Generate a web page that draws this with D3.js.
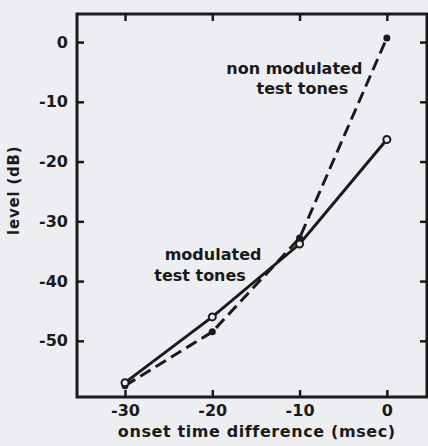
<!DOCTYPE html>
<html>
<head>
<meta charset="utf-8">
<script src="https://cdn.jsdelivr.net/npm/d3@7"></script>
<style>
  body { margin: 0; background: #eceef2; }
  text { font-family: "DejaVu Sans", sans-serif; font-weight: bold; fill: #1a1a1a; }
</style>
</head>
<body>
<div id="wrapper"></div>
<script>
// data
const onsetTimes = [-30, -20, -10, 0]
const modulated = [-57, -46, -33.8, -16.3]
const nonModulated = [-57.5, -48.5, -32.8, 0.7]
const xTicks = [-30, -20, -10, 0]
const yTicks = [0, -10, -20, -30, -40, -50]

const modData = onsetTimes.map((t, i) => ({ t: t, level: modulated[i] }))
const nonModData = onsetTimes.map((t, i) => ({ t: t, level: nonModulated[i] }))

const xAccessor = d => d.t
const yAccessor = d => d.level

let dimensions = {
  width: 428,
  height: 446,
  margin: { top: 14, right: 1, bottom: 49, left: 77 },
}
dimensions.boundedWidth = dimensions.width - dimensions.margin.left - dimensions.margin.right
dimensions.boundedHeight = dimensions.height - dimensions.margin.top - dimensions.margin.bottom

const svg = d3.select("#wrapper")
  .append("svg")
    .attr("width", dimensions.width)
    .attr("height", dimensions.height)

const bounds = svg.append("g")
    .attr("transform", `translate(${dimensions.margin.left},${dimensions.margin.top})`)

const xScale = d3.scaleLinear()
  .domain([-35.5, 4.6])
  .range([0, dimensions.boundedWidth])

const yScale = d3.scaleLinear()
  .domain([-59.4, 4.7])
  .range([dimensions.boundedHeight, 0])

// frame with inward ticks on all four sides
const tickSize = 7
const axisStyle = g => {
  g.select(".domain").remove()
  g.selectAll(".tick line").attr("stroke", "#1a1a1a").attr("stroke-width", 2.5)
  g.selectAll(".tick text")
    .style("font-size", "16px")
    .attr("fill", "#1a1a1a")
}
const plainFormat = d => String(d)

const xAxis = bounds.append("g")
    .attr("transform", `translate(0,${dimensions.boundedHeight})`)
    .call(d3.axisBottom(xScale).tickValues(xTicks).tickSizeInner(-tickSize).tickSizeOuter(0).tickPadding(8).tickFormat(plainFormat))
    .call(axisStyle)

bounds.append("g")
    .call(d3.axisTop(xScale).tickValues(xTicks).tickSizeInner(-tickSize).tickSizeOuter(0).tickFormat(""))
    .call(axisStyle)

const yAxis = bounds.append("g")
    .call(d3.axisLeft(yScale).tickValues(yTicks).tickSizeInner(-tickSize).tickSizeOuter(0).tickPadding(9).tickFormat(plainFormat))
    .call(axisStyle)

bounds.append("g")
    .attr("transform", `translate(${dimensions.boundedWidth},0)`)
    .call(d3.axisRight(yScale).tickValues(yTicks).tickSizeInner(-tickSize).tickSizeOuter(0).tickFormat(""))
    .call(axisStyle)

bounds.append("rect")
    .attr("width", dimensions.boundedWidth)
    .attr("height", dimensions.boundedHeight)
    .attr("fill", "none")
    .attr("stroke", "#1a1a1a")
    .attr("stroke-width", 3)

// lines
const lineGenerator = d3.line()
  .x(d => xScale(xAccessor(d)))
  .y(d => yScale(yAccessor(d)))

bounds.append("path")
    .datum(modData)
    .attr("d", lineGenerator)
    .attr("fill", "none")
    .attr("stroke", "#1a1a1a")
    .attr("stroke-width", 3)

bounds.append("path")
    .datum(nonModData)
    .attr("d", lineGenerator)
    .attr("fill", "none")
    .attr("stroke", "#1a1a1a")
    .attr("stroke-width", 3)
    .attr("stroke-dasharray", "12,6")

bounds.selectAll(".dot-non")
  .data(nonModData)
  .enter().append("circle")
    .attr("class", "dot-non")
    .attr("cx", d => xScale(xAccessor(d)))
    .attr("cy", d => yScale(yAccessor(d)))
    .attr("r", 3.5)
    .attr("fill", "#1a1a1a")

bounds.selectAll(".dot-mod")
  .data(modData)
  .enter().append("circle")
    .attr("class", "dot-mod")
    .attr("cx", d => xScale(xAccessor(d)))
    .attr("cy", d => yScale(yAccessor(d)))
    .attr("r", 3.5)
    .attr("fill", "#eceef2")
    .attr("stroke", "#1a1a1a")
    .attr("stroke-width", 2)

// annotations, one text per line
const annotate = (lines, t, level, lineGap) => {
  lines.forEach((l, i) => {
    bounds.append("text")
        .attr("x", xScale(t) + l.dx)
        .attr("y", yScale(level) + i * lineGap)
        .attr("text-anchor", "middle")
        .style("font-size", "16px")
        .text(l.text)
  })
}
annotate([{ text: "non modulated", dx: 0 }, { text: "test tones", dx: 8 }], -10.6, -5.4, 19.5)
annotate([{ text: "modulated", dx: 13 }, { text: "test tones", dx: 0 }], -21.4, -36.4, 21)

// axis titles
xAxis.append("text")
    .attr("x", xScale(-14.9))
    .attr("y", 40)
    .attr("text-anchor", "middle")
    .style("font-size", "16px")
    .style("letter-spacing", "0.6px")
    .text("onset time difference (msec)")

yAxis.append("text")
    .attr("transform", `translate(${-dimensions.margin.left + 19},${yScale(-24.8)}) rotate(-90)`)
    .attr("text-anchor", "middle")
    .style("font-size", "15px")
    .style("letter-spacing", "0.8px")
    .text("level (dB)")
</script>
</body>
</html>
